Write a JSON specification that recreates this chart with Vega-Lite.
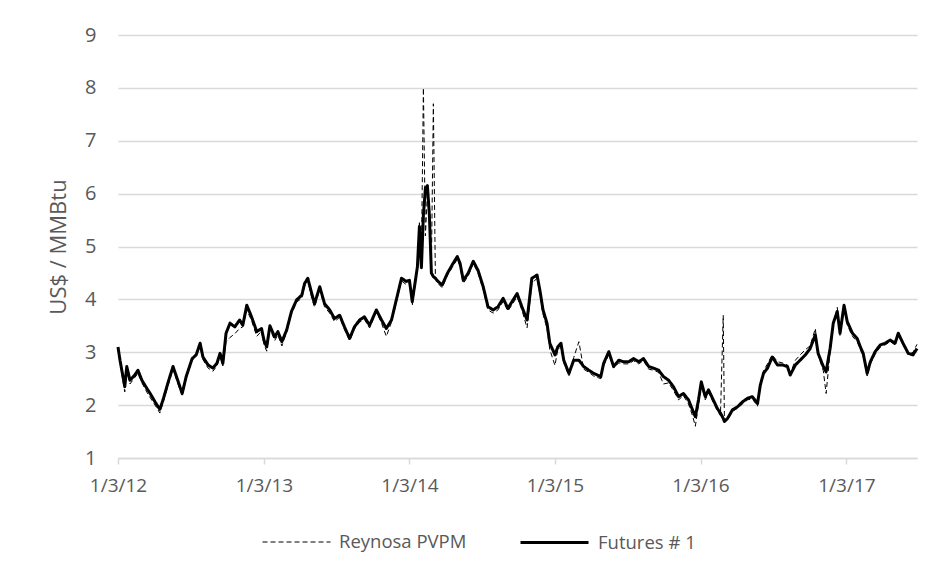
{
  "$schema": "https://vega.github.io/schema/vega-lite/v6.json",
  "autosize": {"type": "none"},
  "width": 799,
  "height": 423,
  "padding": {"left": 118, "top": 35, "right": 18, "bottom": 120},
  "background": "white",
  "data": {"values": [
    {"date":"2012-01-03","futures":3.10,"reynosa":3.05},
    {"date":"2012-01-08","futures":2.85,"reynosa":2.80},
    {"date":"2012-01-20","futures":2.35,"reynosa":2.25},
    {"date":"2012-01-25","futures":2.73,"reynosa":2.68},
    {"date":"2012-02-02","futures":2.47,"reynosa":2.40},
    {"date":"2012-02-14","futures":2.57,"reynosa":2.52},
    {"date":"2012-02-22","futures":2.66,"reynosa":2.60},
    {"date":"2012-03-03","futures":2.47,"reynosa":2.42},
    {"date":"2012-03-15","futures":2.32,"reynosa":2.25},
    {"date":"2012-03-23","futures":2.23,"reynosa":2.15},
    {"date":"2012-04-05","futures":2.06,"reynosa":2.00},
    {"date":"2012-04-17","futures":1.92,"reynosa":1.85},
    {"date":"2012-04-25","futures":2.10,"reynosa":2.05},
    {"date":"2012-05-08","futures":2.44,"reynosa":2.38},
    {"date":"2012-05-20","futures":2.73,"reynosa":2.68},
    {"date":"2012-05-30","futures":2.51,"reynosa":2.45},
    {"date":"2012-06-12","futures":2.22,"reynosa":2.18},
    {"date":"2012-06-22","futures":2.54,"reynosa":2.50},
    {"date":"2012-07-07","futures":2.88,"reynosa":2.85},
    {"date":"2012-07-17","futures":2.95,"reynosa":2.92},
    {"date":"2012-07-27","futures":3.17,"reynosa":3.12},
    {"date":"2012-08-03","futures":2.91,"reynosa":2.86},
    {"date":"2012-08-16","futures":2.76,"reynosa":2.70},
    {"date":"2012-08-28","futures":2.70,"reynosa":2.64},
    {"date":"2012-09-07","futures":2.79,"reynosa":2.74},
    {"date":"2012-09-15","futures":2.98,"reynosa":2.92},
    {"date":"2012-09-22","futures":2.79,"reynosa":2.74},
    {"date":"2012-09-30","futures":3.36,"reynosa":3.20},
    {"date":"2012-10-10","futures":3.55,"reynosa":3.28},
    {"date":"2012-10-22","futures":3.48,"reynosa":3.35},
    {"date":"2012-11-03","futures":3.61,"reynosa":3.45},
    {"date":"2012-11-11","futures":3.51,"reynosa":3.48},
    {"date":"2012-11-21","futures":3.89,"reynosa":3.80},
    {"date":"2012-12-03","futures":3.67,"reynosa":3.60},
    {"date":"2012-12-16","futures":3.39,"reynosa":3.30},
    {"date":"2012-12-28","futures":3.45,"reynosa":3.40},
    {"date":"2013-01-03","futures":3.23,"reynosa":3.15},
    {"date":"2013-01-10","futures":3.10,"reynosa":3.02},
    {"date":"2013-01-18","futures":3.50,"reynosa":3.45},
    {"date":"2013-01-30","futures":3.29,"reynosa":3.22},
    {"date":"2013-02-07","futures":3.39,"reynosa":3.33},
    {"date":"2013-02-17","futures":3.20,"reynosa":3.12},
    {"date":"2013-03-01","futures":3.42,"reynosa":3.38},
    {"date":"2013-03-13","futures":3.77,"reynosa":3.72},
    {"date":"2013-03-26","futures":3.99,"reynosa":3.95},
    {"date":"2013-04-08","futures":4.08,"reynosa":4.02},
    {"date":"2013-04-15","futures":4.30,"reynosa":4.25},
    {"date":"2013-04-23","futures":4.40,"reynosa":4.36},
    {"date":"2013-05-03","futures":4.11,"reynosa":4.02},
    {"date":"2013-05-10","futures":3.92,"reynosa":3.85},
    {"date":"2013-05-23","futures":4.24,"reynosa":4.20},
    {"date":"2013-06-04","futures":3.92,"reynosa":3.86},
    {"date":"2013-06-17","futures":3.80,"reynosa":3.74},
    {"date":"2013-06-29","futures":3.64,"reynosa":3.58},
    {"date":"2013-07-12","futures":3.70,"reynosa":3.66},
    {"date":"2013-07-24","futures":3.48,"reynosa":3.43},
    {"date":"2013-08-06","futures":3.26,"reynosa":3.22},
    {"date":"2013-08-18","futures":3.48,"reynosa":3.44},
    {"date":"2013-08-31","futures":3.61,"reynosa":3.57},
    {"date":"2013-09-12","futures":3.67,"reynosa":3.62},
    {"date":"2013-09-25","futures":3.51,"reynosa":3.46},
    {"date":"2013-10-12","futures":3.80,"reynosa":3.76},
    {"date":"2013-10-25","futures":3.61,"reynosa":3.55},
    {"date":"2013-11-06","futures":3.45,"reynosa":3.30},
    {"date":"2013-11-19","futures":3.61,"reynosa":3.57},
    {"date":"2013-12-01","futures":3.99,"reynosa":3.94},
    {"date":"2013-12-14","futures":4.40,"reynosa":4.35},
    {"date":"2013-12-26","futures":4.34,"reynosa":4.28},
    {"date":"2014-01-03","futures":4.36,"reynosa":4.30},
    {"date":"2014-01-10","futures":3.96,"reynosa":3.88},
    {"date":"2014-01-18","futures":4.36,"reynosa":4.32},
    {"date":"2014-01-23","futures":4.62,"reynosa":4.70},
    {"date":"2014-01-28","futures":5.38,"reynosa":5.45},
    {"date":"2014-02-02","futures":4.60,"reynosa":4.80},
    {"date":"2014-02-07","futures":5.60,"reynosa":8.00},
    {"date":"2014-02-12","futures":6.10,"reynosa":5.20},
    {"date":"2014-02-17","futures":6.15,"reynosa":6.00},
    {"date":"2014-02-22","futures":5.60,"reynosa":5.50},
    {"date":"2014-02-27","futures":4.50,"reynosa":4.60},
    {"date":"2014-03-04","futures":4.43,"reynosa":7.70},
    {"date":"2014-03-09","futures":4.40,"reynosa":4.45},
    {"date":"2014-03-13","futures":4.36,"reynosa":4.32},
    {"date":"2014-03-26","futures":4.27,"reynosa":4.22},
    {"date":"2014-04-08","futures":4.49,"reynosa":4.45},
    {"date":"2014-04-20","futures":4.65,"reynosa":4.60},
    {"date":"2014-05-03","futures":4.81,"reynosa":4.76},
    {"date":"2014-05-10","futures":4.68,"reynosa":4.62},
    {"date":"2014-05-18","futures":4.36,"reynosa":4.30},
    {"date":"2014-05-30","futures":4.49,"reynosa":4.44},
    {"date":"2014-06-12","futures":4.72,"reynosa":4.68},
    {"date":"2014-06-24","futures":4.55,"reynosa":4.50},
    {"date":"2014-07-07","futures":4.24,"reynosa":4.18},
    {"date":"2014-07-19","futures":3.86,"reynosa":3.80},
    {"date":"2014-08-01","futures":3.80,"reynosa":3.74},
    {"date":"2014-08-13","futures":3.86,"reynosa":3.80},
    {"date":"2014-08-26","futures":4.02,"reynosa":3.96},
    {"date":"2014-09-07","futures":3.83,"reynosa":3.78},
    {"date":"2014-09-20","futures":3.99,"reynosa":3.93},
    {"date":"2014-09-30","futures":4.11,"reynosa":4.05},
    {"date":"2014-10-12","futures":3.86,"reynosa":3.80},
    {"date":"2014-10-25","futures":3.61,"reynosa":3.46},
    {"date":"2014-11-06","futures":4.40,"reynosa":4.30},
    {"date":"2014-11-19","futures":4.46,"reynosa":4.40},
    {"date":"2014-11-26","futures":4.18,"reynosa":4.10},
    {"date":"2014-12-04","futures":3.80,"reynosa":3.72},
    {"date":"2014-12-14","futures":3.55,"reynosa":3.45},
    {"date":"2014-12-21","futures":3.17,"reynosa":3.05},
    {"date":"2015-01-03","futures":2.95,"reynosa":2.75},
    {"date":"2015-01-10","futures":3.10,"reynosa":3.05},
    {"date":"2015-01-18","futures":3.17,"reynosa":3.10},
    {"date":"2015-01-25","futures":2.85,"reynosa":2.80},
    {"date":"2015-02-07","futures":2.60,"reynosa":2.55},
    {"date":"2015-02-19","futures":2.85,"reynosa":2.90},
    {"date":"2015-03-04","futures":2.85,"reynosa":3.20},
    {"date":"2015-03-16","futures":2.73,"reynosa":2.68},
    {"date":"2015-03-29","futures":2.66,"reynosa":2.62},
    {"date":"2015-04-10","futures":2.60,"reynosa":2.55},
    {"date":"2015-04-28","futures":2.54,"reynosa":2.50},
    {"date":"2015-05-05","futures":2.79,"reynosa":2.74},
    {"date":"2015-05-18","futures":3.01,"reynosa":2.96},
    {"date":"2015-05-30","futures":2.73,"reynosa":2.70},
    {"date":"2015-06-12","futures":2.85,"reynosa":2.80},
    {"date":"2015-06-24","futures":2.82,"reynosa":2.78},
    {"date":"2015-07-07","futures":2.82,"reynosa":2.78},
    {"date":"2015-07-19","futures":2.88,"reynosa":2.84},
    {"date":"2015-08-01","futures":2.82,"reynosa":2.78},
    {"date":"2015-08-13","futures":2.88,"reynosa":2.84},
    {"date":"2015-08-26","futures":2.73,"reynosa":2.68},
    {"date":"2015-09-07","futures":2.70,"reynosa":2.66},
    {"date":"2015-09-20","futures":2.66,"reynosa":2.62},
    {"date":"2015-10-02","futures":2.54,"reynosa":2.40},
    {"date":"2015-10-15","futures":2.47,"reynosa":2.42},
    {"date":"2015-10-27","futures":2.35,"reynosa":2.28},
    {"date":"2015-11-09","futures":2.16,"reynosa":2.10},
    {"date":"2015-11-21","futures":2.22,"reynosa":2.18},
    {"date":"2015-12-04","futures":2.10,"reynosa":2.02},
    {"date":"2015-12-14","futures":1.91,"reynosa":1.80},
    {"date":"2015-12-21","futures":1.78,"reynosa":1.60},
    {"date":"2015-12-29","futures":2.10,"reynosa":2.00},
    {"date":"2016-01-05","futures":2.44,"reynosa":2.38},
    {"date":"2016-01-15","futures":2.16,"reynosa":2.10},
    {"date":"2016-01-23","futures":2.29,"reynosa":2.24},
    {"date":"2016-02-04","futures":2.10,"reynosa":2.05},
    {"date":"2016-02-14","futures":1.94,"reynosa":1.90},
    {"date":"2016-02-22","futures":1.85,"reynosa":1.80},
    {"date":"2016-02-29","futures":1.75,"reynosa":3.70},
    {"date":"2016-03-03","futures":1.69,"reynosa":1.70},
    {"date":"2016-03-11","futures":1.75,"reynosa":1.72},
    {"date":"2016-03-23","futures":1.91,"reynosa":1.88},
    {"date":"2016-04-05","futures":1.97,"reynosa":1.94},
    {"date":"2016-04-17","futures":2.06,"reynosa":2.02},
    {"date":"2016-04-30","futures":2.13,"reynosa":2.10},
    {"date":"2016-05-12","futures":2.16,"reynosa":2.12},
    {"date":"2016-05-25","futures":2.03,"reynosa":1.98},
    {"date":"2016-06-01","futures":2.38,"reynosa":2.40},
    {"date":"2016-06-09","futures":2.60,"reynosa":2.65},
    {"date":"2016-06-19","futures":2.70,"reynosa":2.78},
    {"date":"2016-07-01","futures":2.91,"reynosa":2.95},
    {"date":"2016-07-14","futures":2.76,"reynosa":2.82},
    {"date":"2016-07-26","futures":2.76,"reynosa":2.80},
    {"date":"2016-08-08","futures":2.73,"reynosa":2.76},
    {"date":"2016-08-15","futures":2.57,"reynosa":2.60},
    {"date":"2016-08-28","futures":2.76,"reynosa":2.85},
    {"date":"2016-09-09","futures":2.85,"reynosa":2.95},
    {"date":"2016-09-22","futures":2.95,"reynosa":3.05},
    {"date":"2016-10-04","futures":3.07,"reynosa":3.12},
    {"date":"2016-10-17","futures":3.33,"reynosa":3.45},
    {"date":"2016-10-24","futures":2.98,"reynosa":2.95},
    {"date":"2016-11-06","futures":2.73,"reynosa":2.65},
    {"date":"2016-11-13","futures":2.63,"reynosa":2.22},
    {"date":"2016-11-23","futures":3.07,"reynosa":3.00},
    {"date":"2016-12-01","futures":3.55,"reynosa":3.50},
    {"date":"2016-12-11","futures":3.77,"reynosa":3.85},
    {"date":"2016-12-18","futures":3.36,"reynosa":3.30},
    {"date":"2016-12-28","futures":3.89,"reynosa":3.92},
    {"date":"2017-01-05","futures":3.58,"reynosa":3.52},
    {"date":"2017-01-18","futures":3.36,"reynosa":3.30},
    {"date":"2017-01-30","futures":3.26,"reynosa":3.20},
    {"date":"2017-02-07","futures":3.10,"reynosa":3.05},
    {"date":"2017-02-14","futures":2.98,"reynosa":2.92},
    {"date":"2017-02-24","futures":2.60,"reynosa":2.55},
    {"date":"2017-03-04","futures":2.82,"reynosa":2.78},
    {"date":"2017-03-16","futures":3.01,"reynosa":2.96},
    {"date":"2017-03-29","futures":3.14,"reynosa":3.10},
    {"date":"2017-04-10","futures":3.17,"reynosa":3.14},
    {"date":"2017-04-23","futures":3.23,"reynosa":3.20},
    {"date":"2017-05-05","futures":3.17,"reynosa":3.14},
    {"date":"2017-05-13","futures":3.36,"reynosa":3.32},
    {"date":"2017-05-25","futures":3.17,"reynosa":3.14},
    {"date":"2017-06-07","futures":2.98,"reynosa":2.95},
    {"date":"2017-06-19","futures":2.95,"reynosa":3.00},
    {"date":"2017-06-29","futures":3.07,"reynosa":3.15}
  ]},
  "transform": [{"fold": ["reynosa", "futures"], "as": ["series", "value"]}],
  "mark": {"type": "line", "color": "black", "interpolate": "linear", "strokeJoin": "round"},
  "encoding": {
    "x": {
      "field": "date", "type": "temporal",
      "scale": {"type": "utc", "domain": [{"year": 2012, "month": 1, "date": 3, "utc": true}, {"year": 2017, "month": 6, "date": 29, "utc": true}]},
      "axis": {
        "title": null,
        "values": [
          {"year": 2012, "month": 1, "date": 3, "utc": true},
          {"year": 2013, "month": 1, "date": 3, "utc": true},
          {"year": 2014, "month": 1, "date": 3, "utc": true},
          {"year": 2015, "month": 1, "date": 3, "utc": true},
          {"year": 2016, "month": 1, "date": 3, "utc": true},
          {"year": 2017, "month": 1, "date": 3, "utc": true}
        ],
        "labelExpr": "utcFormat(datum.value, '%-m/%-d/%y')",
        "grid": false,
        "domain": true, "domainColor": "#d9d9d9", "domainWidth": 1.5,
        "ticks": true, "tickColor": "#d9d9d9", "tickSize": 6, "tickWidth": 1.5,
        "labelPadding": 12, "labelFont": "Open Sans", "labelFontSize": 19, "labelColor": "#595959",
        "labelOverlap": false, "labelFlush": false
      }
    },
    "y": {
      "field": "value", "type": "quantitative",
      "scale": {"domain": [1, 9], "nice": false, "zero": false},
      "axis": {
        "title": "US$ / MMBtu",
        "values": [1, 2, 3, 4, 5, 6, 7, 8, 9],
        "domain": false, "ticks": false,
        "grid": true, "gridColor": "#d9d9d9", "gridWidth": 1.5,
        "labelPadding": 22, "labelFont": "Open Sans", "labelFontSize": 20, "labelColor": "#595959",
        "titleFont": "Open Sans", "titleFontSize": 22, "titleFontWeight": "normal", "titleColor": "#595959",
        "titlePadding": 14
      }
    },
    "strokeDash": {
      "field": "series", "type": "nominal",
      "scale": {"domain": ["reynosa", "futures"], "range": [[5, 3], [1, 0]]},
      "legend": {
        "title": null,
        "orient": "none", "direction": "horizontal",
        "legendX": 144, "legendY": 472,
        "symbolType": "stroke", "symbolSize": 4624, "symbolStrokeColor": "black",
        "labelOffset": 8, "columnPadding": 47,
        "labelFont": "Open Sans", "labelFontSize": 18.5, "labelColor": "#595959",
        "labelExpr": "datum.label == 'reynosa' ? 'Reynosa PVPM' : 'Futures # 1'"
      }
    },
    "strokeWidth": {
      "field": "series", "type": "nominal",
      "scale": {"domain": ["reynosa", "futures"], "range": [1, 3]},
      "legend": null
    }
  },
  "config": {"view": {"stroke": null}}
}
